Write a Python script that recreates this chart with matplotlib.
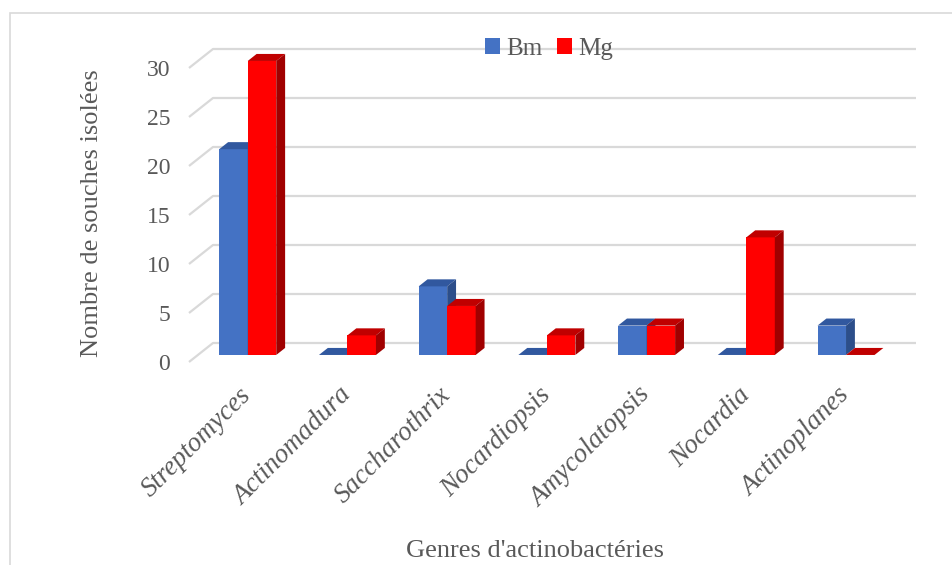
import numpy as np
import matplotlib.pyplot as plt
from matplotlib.patches import Polygon, Rectangle, Patch

# Données : nombre de souches par genre et par site
genres = ['Streptomyces', 'Actinomadura', 'Saccharothrix', 'Nocardiopsis',
          'Amycolatopsis', 'Nocardia', 'Actinoplanes']
bm = [21, 0, 7, 0, 3, 0, 3]
mg = [30, 2, 5, 2, 3, 12, 0]
yticks = [0, 5, 10, 15, 20, 25, 30]

# Couleurs (face avant, dessus, côté)
couleurs_bm = ('#4472C4', '#31589F', '#2C4E8A')
couleurs_mg = ('#FF0000', '#C00000', '#A00000')
gris_texte = '#595959'
gris_grille = '#D9D9D9'

plt.rcParams['font.family'] = ['Liberation Serif', 'DejaVu Serif']

W, H = 952, 565
fig = plt.figure(figsize=(W / 100, H / 100), dpi=100)

# Repère du plancher avant (profondeur 0)
ax_l, ax_r, ax_b, ax_t = 189, 887, 362, 68
ax = fig.add_axes([ax_l / W, 1 - ax_b / H, (ax_r - ax_l) / W, (ax_b - ax_t) / H])
n = len(genres)
ax.set_xlim(-0.5, n - 0.5)
ax.set_ylim(0, 30)
for s in ax.spines.values():
    s.set_visible(False)

# Décalage en perspective (unités de données pour profondeur 1)
px_x = (ax_r - ax_l) / n
px_y = (ax_b - ax_t) / 30
DX = 24 / px_x
DY = 19 / px_y


def decale(x, y, d):
    return (x + d * DX, y + d * DY)


# Mur latéral et mur du fond
for v in yticks:
    p0 = decale(-0.5, v, 0)
    p1 = decale(-0.5, v, 1)
    p2 = decale(n - 0.5 + 0.05, v, 1)
    ax.plot([p0[0], p1[0], p2[0]], [p0[1], p1[1], p2[1]], color=gris_grille,
            lw=1.6, clip_on=False, zorder=1, solid_capstyle='butt')

# Barres 3D
w = 28.5 / px_x
d1, d2 = 0.37, 0.74
x = np.arange(n)


def barre3d(x0, v, cols):
    x1 = x0 + w
    # face avant
    ax.bar(x0 + d1 * DX, v, width=w, bottom=d1 * DY, align='edge',
           color=cols[0], edgecolor='none', zorder=3, clip_on=False)
    # dessus
    top = [decale(x0, v, d1), decale(x1, v, d1), decale(x1, v, d2), decale(x0, v, d2)]
    ax.add_patch(Polygon(top, closed=True, facecolor=cols[1], edgecolor='none',
                         zorder=3, clip_on=False))
    # côté droit
    cote = [decale(x1, 0, d1), decale(x1, v, d1), decale(x1, v, d2), decale(x1, 0, d2)]
    ax.add_patch(Polygon(cote, closed=True, facecolor=cols[2], edgecolor='none',
                         zorder=3, clip_on=False))


for i in range(n):
    barre3d(x[i] - w, bm[i], couleurs_bm)
    barre3d(x[i], mg[i], couleurs_mg)

# Axes et étiquettes
ax.set_yticks(yticks)
ax.set_yticklabels([str(v) for v in yticks], fontsize=17, color=gris_texte)
ax.tick_params(axis='y', length=0, pad=13.5)
ax.set_xticks(x)
ax.set_xticklabels(genres, rotation=45, ha='right', va='top', rotation_mode='anchor',
                   fontsize=19.5, style='italic', color=gris_texte)
ax.tick_params(axis='x', length=0, pad=15)

fig.text(92 / W, 1 - 213 / H, 'Nombre de souches isolées', rotation=90,
         ha='center', va='center', fontsize=19, color=gris_texte)
fig.text(535 / W, 1 - 551 / H, "Genres d'actinobactéries",
         ha='center', va='center', fontsize=19, color=gris_texte)

# Légende
poignees = [Patch(facecolor=couleurs_bm[0], label='Bm'),
            Patch(facecolor=couleurs_mg[0], label='Mg')]
fig.legend(handles=poignees, loc='center', bbox_to_anchor=(549 / W, 1 - 49 / H),
           ncol=2, frameon=False, fontsize=18, handlelength=0.6, handleheight=0.6,
           handletextpad=0.25, columnspacing=0.6, labelcolor=gris_texte,
           borderpad=0)

# Cadre du graphique
fig.patches.append(Rectangle((9.5 / W, -0.1), 1.2, 1 - 13 / H + 0.1,
                             transform=fig.transFigure, fill=False,
                             edgecolor='#D9D9D9', lw=1.2, zorder=0))

fig.savefig('out.png', dpi=100)
